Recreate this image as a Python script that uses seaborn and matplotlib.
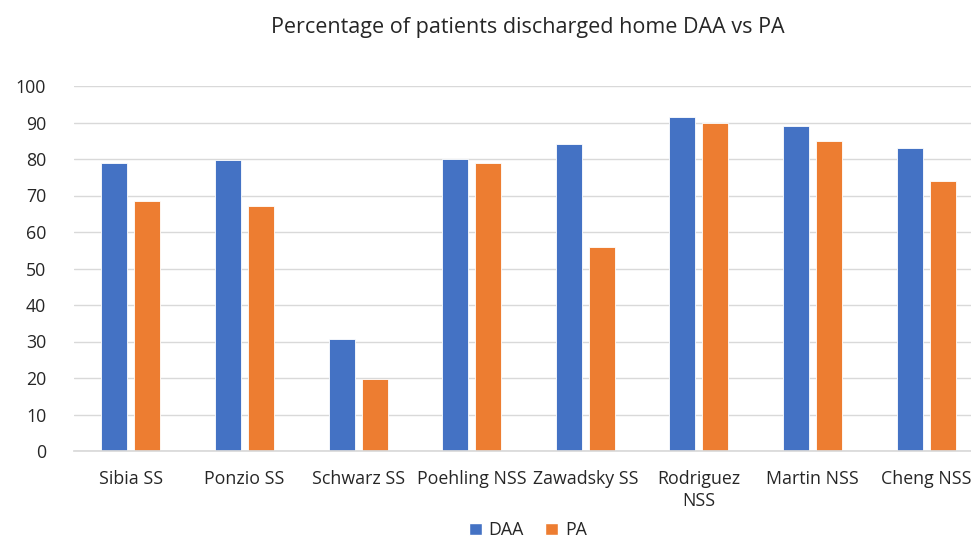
import pandas as pd
import matplotlib.pyplot as plt
import seaborn as sns
from matplotlib.patches import Patch

# ── Data ──────────────────────────────────────────
studies = ['Sibia SS', 'Ponzio SS', 'Schwarz SS', 'Poehling NSS',
           'Zawadsky SS', 'Rodriguez\nNSS', 'Martin NSS', 'Cheng NSS']
daa = [79, 79.6, 30.7, 80, 84, 91.6, 89, 83]
pa = [68.6, 67, 19.8, 79, 56, 90, 85, 74]
groups = ['DAA', 'PA']
colors = ['#4472C4', '#ED7D31']

df = pd.DataFrame({'study': studies * 2,
                   'value': daa + pa,
                   'group': ['DAA'] * len(daa) + ['PA'] * len(pa)})

# ── Settings ──────────────────────────────────────
sns.set_theme(style='white')
plt.rcParams['font.family'] = ['Open Sans', 'DejaVu Sans']

fig = plt.figure(figsize=(9.71, 5.41), dpi=100)
ax = fig.add_axes([74 / 971, 1 - 451 / 541, 909 / 971, 365 / 541])

sns.barplot(data=df, x='study', y='value', hue='group', order=studies,
            hue_order=groups, palette=colors, saturation=1, width=0.58, gap=0.21,
            edgecolor='white', linewidth=0.6, ax=ax, legend=False)

ax.set_ylim(0, 100)
ax.set_xlim(-0.5, len(studies) - 0.5)
ax.set_yticks(range(0, 101, 10))
ax.yaxis.grid(True, color='#d9d9d9', linewidth=1)
ax.set_axisbelow(True)
for s in ['top', 'right', 'left']:
    ax.spines[s].set_visible(False)
ax.spines['bottom'].set_color('#d9d9d9')
ax.tick_params(axis='both', length=0, labelsize=12.8, colors='#262626')
ax.tick_params(axis='y', pad=20)
ax.tick_params(axis='x', pad=14)
for lbl in ax.get_xticklabels():
    lbl.set_linespacing(1.25)
ax.set_xlabel('')
ax.set_ylabel('')

fig.text(528 / 971, 1 - 27 / 541, 'Percentage of patients discharged home DAA vs PA',
         ha='center', va='center', fontsize=15.5, color='#262626')

handles = [Patch(facecolor=c, label=g) for g, c in zip(groups, colors)]
fig.legend(handles=handles, loc='center', bbox_to_anchor=(528 / 971, 1 - 530 / 541),
           ncol=2, frameon=False, fontsize=12.8, handlelength=0.7, handleheight=0.7,
           columnspacing=1.2, handletextpad=0.4)

fig.savefig('out.png', dpi=100)
